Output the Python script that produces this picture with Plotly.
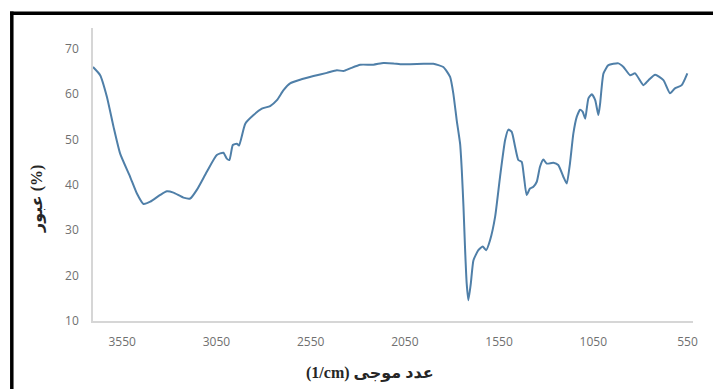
import plotly.graph_objects as go

# wavenumber (1/cm) and transmittance (%)
wavenumber = [3705, 3667, 3631, 3596, 3561, 3508, 3472, 3437, 3401, 3348, 3313, 3278,
              3225, 3189, 3154, 3101, 3048, 3013, 2995, 2981, 2963, 2942, 2930, 2897,
              2853, 2809, 2765, 2729, 2694, 2659, 2606, 2535, 2464, 2411, 2376, 2340,
              2287, 2217, 2164, 2111, 2075, 2022, 1950, 1899, 1846, 1810, 1793, 1775,
              1757, 1748, 1739, 1731, 1722, 1713, 1700, 1686, 1660, 1637, 1619, 1598,
              1571, 1545, 1518, 1501, 1483, 1465, 1448, 1430, 1418, 1404, 1386, 1368,
              1350, 1333, 1315, 1297, 1262, 1236, 1209, 1191, 1174, 1156, 1138, 1120,
              1106, 1093, 1076, 1058, 1040, 1023, 1014, 996, 970, 917, 890, 855, 828,
              784, 757, 722, 678, 643, 617, 581, 551]
transmittance = [66.0, 64.2, 59.4, 52.8, 46.9, 41.8, 38.1, 35.8, 36.3, 37.8, 38.6, 38.3,
                 37.2, 37.0, 38.9, 42.9, 46.6, 47.1, 45.8, 45.5, 48.8, 49.1, 48.7, 53.5,
                 55.4, 56.8, 57.4, 58.7, 60.9, 62.4, 63.2, 64.0, 64.7, 65.3, 65.1, 65.7,
                 66.5, 66.5, 66.9, 66.8, 66.6, 66.6, 66.7, 66.7, 66.0, 63.8, 60.2, 54.3,
                 49.1, 43.3, 35.2, 26.4, 18.3, 14.6, 18.3, 23.4, 25.6, 26.4, 25.6, 27.8,
                 33.0, 41.8, 49.9, 52.2, 51.7, 48.4, 45.5, 45.1, 41.8, 37.8, 39.2, 39.6,
                 40.7, 44.0, 45.6, 44.7, 44.9, 44.4, 41.8, 40.3, 44.7, 51.3, 55.0, 56.6,
                 56.1, 54.6, 59.1, 60.0, 58.7, 55.4, 57.9, 64.6, 66.4, 66.8, 66.0, 64.2, 64.6,
                 62.0, 63.1, 64.3, 63.1, 60.2, 61.3, 62.0, 64.6]

x_ticks = [3550, 3050, 2550, 2050, 1550, 1050, 550]
y_ticks = [10, 20, 30, 40, 50, 60, 70]

x_title = "(1/cm) عدد موجی"
y_title = "عبور (%)"

W, H = 714, 390
ML, MR, MT, MB = 93, 21, 28, 69
PW, PH = W - ML - MR, H - MT - MB


def px(x):
    return (x - ML) / PW


def py(y):
    return 1 - (y - MT) / PH


fig = go.Figure()
fig.add_trace(go.Scatter(
    x=wavenumber, y=transmittance, mode="lines",
    line=dict(color="#4f7fa8", width=2, shape="spline", smoothing=0.5),
    hoverinfo="skip", showlegend=False,
))

tick_font = dict(family="Open Sans, Liberation Sans, sans-serif", size=12, color="#707070")
title_font = dict(family="Liberation Serif, DejaVu Sans, serif", size=16, color="#262626")

border = dict(color="black", width=3.5)

fig.update_layout(
    width=W, height=H,
    margin=dict(l=ML, r=MR, t=MT, b=MB),
    paper_bgcolor="white", plot_bgcolor="white",
    xaxis=dict(
        range=[3705, 521], tickvals=x_ticks, ticktext=[str(v) for v in x_ticks],
        showgrid=False, zeroline=False, showline=True, linecolor="#d6d6d6", linewidth=1.5,
        ticks="outside", ticklen=9, tickcolor="rgba(0,0,0,0)", tickfont=tick_font,
    ),
    yaxis=dict(
        range=[10, 74.6], tickvals=y_ticks,
        showgrid=False, zeroline=False, showline=True, linecolor="#d6d6d6", linewidth=1.5,
        ticks="outside", ticklen=10, tickcolor="rgba(0,0,0,0)", tickfont=tick_font,
    ),
    annotations=[
        dict(text="<b>" + x_title + "</b>", xref="paper", yref="paper",
             x=px(370), y=py(373), showarrow=False, font=title_font,
             xanchor="center", yanchor="middle"),
        dict(text="<b>" + y_title + "</b>", xref="paper", yref="paper",
             x=px(37), y=py(199), showarrow=False, font=title_font, textangle=-90,
             xanchor="center", yanchor="middle"),
    ],
    shapes=[
        dict(type="rect", xref="paper", yref="paper",
             x0=px(700), y0=py(H + 5), x1=px(W + 5), y1=py(18),
             line=dict(width=0), fillcolor="white", layer="above"),
        dict(type="line", xref="paper", yref="paper",
             x0=px(10), y0=py(13.3), x1=px(W - 1), y1=py(13.3), line=border, layer="above"),
        dict(type="line", xref="paper", yref="paper",
             x0=px(11.8), y0=py(11.5), x1=px(11.8), y1=py(H - 1), line=border, layer="above"),
    ],
)

fig.write_html(
    "out.html",
    config={"displayModeBar": False},
    post_script=("document.documentElement.style.background='white';"
                 "document.body.style.margin='0';document.body.style.overflow='hidden';"),
)
